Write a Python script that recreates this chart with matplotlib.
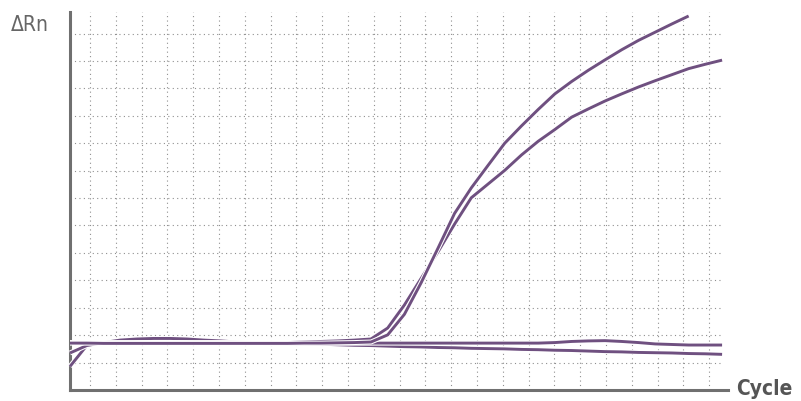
import numpy as np
import matplotlib
matplotlib.use("Agg")
import matplotlib.pyplot as plt
import matplotlib.patheffects as pe
from matplotlib import font_manager
from matplotlib.font_manager import FontProperties

# ---- data (ΔRn in grid units, per cycle) ----
cycles = np.arange(1, 41)

curve_a = [1.71, 1.71, 1.70, 1.70, 1.70, 1.70, 1.70, 1.70, 1.70, 1.70,
           1.70, 1.70, 1.70, 1.70, 1.71, 1.71, 1.72, 1.73, 1.75, 2.01,
           2.76, 3.91, 5.16, 6.44, 7.37, 8.19, 9.00, 9.63, 10.23, 10.80,
           11.25, 11.66, 12.04, 12.41, 12.75, 13.05, 13.35, 13.64]

curve_b = [1.73, 1.73, 1.73, 1.73, 1.73, 1.73, 1.73, 1.73, 1.73, 1.73,
           1.73, 1.73, 1.73, 1.73, 1.75, 1.77, 1.79, 1.82, 1.86, 2.26,
           3.10, 4.07, 5.03, 6.05, 7.01, 7.51, 8.01, 8.57, 9.07, 9.50,
           9.95, 10.25, 10.54, 10.80, 11.05, 11.28, 11.50, 11.72, 11.88, 12.03]

curve_c = [1.35, 1.62, 1.73, 1.82, 1.86, 1.88, 1.88, 1.86, 1.82, 1.79,
           1.75, 1.73, 1.71, 1.71, 1.71, 1.71, 1.71, 1.71, 1.71, 1.71,
           1.71, 1.71, 1.71, 1.71, 1.71, 1.71, 1.71, 1.71, 1.71, 1.73,
           1.77, 1.79, 1.80, 1.77, 1.73, 1.68, 1.66, 1.64, 1.64, 1.64]

curve_d = [0.86, 1.62, 1.71, 1.73, 1.73, 1.73, 1.73, 1.72, 1.71, 1.71,
           1.71, 1.70, 1.69, 1.68, 1.68, 1.67, 1.65, 1.63, 1.62, 1.60,
           1.58, 1.57, 1.55, 1.54, 1.52, 1.51, 1.50, 1.48, 1.47, 1.45,
           1.44, 1.42, 1.40, 1.39, 1.37, 1.36, 1.35, 1.33, 1.32, 1.30]

y_label = "ΔRn"
x_label = "Cycle"

# ---- style ----
W, H = 801, 401
line_color = "#6f5080"
grid_color = "#8f8f8f"
spine_color = "#707070"


def pick_font(bold):
    """Find an installed condensed / narrow face, else fall back."""
    best = None
    for f in font_manager.fontManager.ttflist:
        name = f.name.lower()
        narrowish = ("condensed" in name or "narrow" in name
                     or str(f.stretch).lower() in ("condensed", "semi-condensed",
                                                   "extra-condensed"))
        if not narrowish:
            continue
        w = f.weight if isinstance(f.weight, int) else (700 if "bold" in str(f.weight) else 400)
        if f.style != "normal":
            continue
        score = abs(w - (700 if bold else 400))
        if best is None or score < best[0]:
            best = (score, f.fname)
    if best is not None:
        return FontProperties(fname=best[1])
    return FontProperties(family="DejaVu Sans",
                          weight="bold" if bold else "normal")


fp_regular = pick_font(False)
fp_bold = pick_font(True)

fig = plt.figure(figsize=(W / 100, H / 100), dpi=100)
ax_left, ax_right, ax_top, ax_bottom = 70, 728, 12, 390
ax = fig.add_axes([ax_left / W, 1 - ax_bottom / H,
                   (ax_right - ax_left) / W, (ax_bottom - ax_top) / H])

px_per_cycle = 16.72
x0 = 1.0
x1 = x0 + (ax_right - ax_left) / px_per_cycle
ax.set_xlim(x0, x1)
ax.set_ylim(0, (ax_bottom - ax_top) / 27.42)

# grid
vgrid = x0 + (20 + 25.8 * np.arange(25)) / px_per_cycle
hgrid = np.arange(1, 14)
ax.vlines(vgrid, 0, ax.get_ylim()[1], colors=grid_color, linewidth=0.8,
          linestyles=(0, (1, 3)), zorder=1)
ax.hlines(hgrid, x0, x0 + 650 / px_per_cycle, colors=grid_color, linewidth=0.8,
          linestyles=(0, (1, 3)), zorder=1)

effects = [pe.Stroke(linewidth=3.6, foreground="white"), pe.Normal()]
for ys in (curve_d, curve_c, curve_b, curve_a):
    ax.plot(cycles[:len(ys)], ys, color=line_color, linewidth=2.1,
            solid_capstyle="butt", solid_joinstyle="round",
            path_effects=effects, zorder=3, clip_on=False)

for s in ("top", "right"):
    ax.spines[s].set_visible(False)
for s in ("left", "bottom"):
    ax.spines[s].set_color(spine_color)
    ax.spines[s].set_linewidth(2.2)
ax.set_xticks([])
ax.set_yticks([])
ax.patch.set_alpha(0)

fp_r = fp_regular.copy()
fp_r.set_size(15)
fp_b = fp_bold.copy()
fp_b.set_size(15)
fig.text(30 / W, 1 - 25 / H, y_label, ha="center", va="center",
         fontproperties=fp_r, color="#666666")
fig.text(764 / W, 1 - 389 / H, x_label, ha="center", va="center",
         fontproperties=fp_b, color="#555555")

fig.savefig("out.png", dpi=100)
